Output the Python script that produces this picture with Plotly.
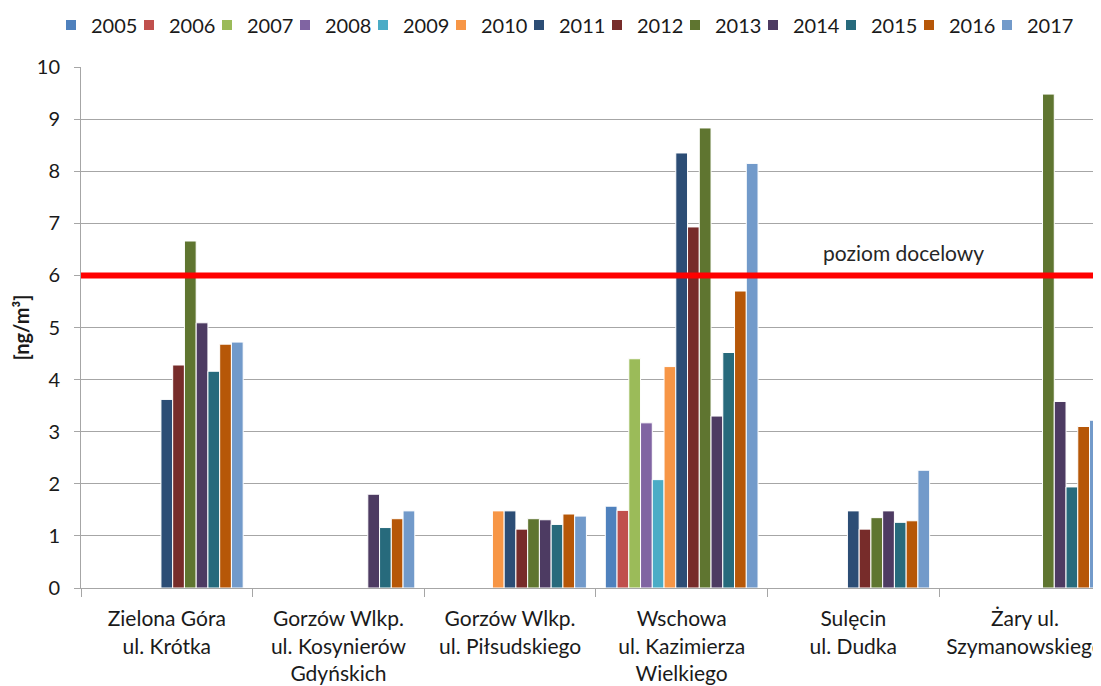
import plotly.graph_objects as go

categories = [
    "Zielona Góra<br>ul. Krótka",
    "Gorzów Wlkp.<br>ul. Kosynierów<br>Gdyńskich",
    "Gorzów Wlkp.<br>ul. Piłsudskiego",
    "Wschowa<br>ul. Kazimierza<br>Wielkiego",
    "Sulęcin<br>ul. Dudka",
    "Żary ul.<br>Szymanowskiego",
]
years = ["2005", "2006", "2007", "2008", "2009", "2010", "2011",
         "2012", "2013", "2014", "2015", "2016", "2017"]

# values per station (index matches years), None = no measurement
zielona_gora = [None, None, None, None, None, None, 3.62, 4.28, 6.66, 5.09, 4.16, 4.68, 4.72]
gorzow_kosynierow = [None, None, None, None, None, None, None, None, None, 1.80, 1.16, 1.33, 1.48]
gorzow_pilsudskiego = [None, None, None, None, None, 1.48, 1.48, 1.13, 1.33, 1.31, 1.22, 1.42, 1.38]
wschowa = [1.57, 1.49, 4.40, 3.17, 2.08, 4.25, 8.35, 6.93, 8.83, 3.30, 4.52, 5.70, 8.15]
sulecin = [None, None, None, None, None, None, 1.48, 1.13, 1.35, 1.48, 1.26, 1.29, 2.26]
zary = [None, None, None, None, None, None, None, None, 9.48, 3.58, 1.94, 3.10, 3.22]

stations = [zielona_gora, gorzow_kosynierow, gorzow_pilsudskiego, wschowa, sulecin, zary]

target_value = 6
target_label = "poziom docelowy"

colors = ["#4F81BD", "#C0504D", "#9BBB59", "#8064A2", "#4BACC6", "#F79646", "#2C4D75",
          "#772C2A", "#5F7530", "#4D3B62", "#276A7C", "#B65708", "#729ACA"]

FONT = "Lato, 'Open Sans', Arial, sans-serif"

PLOT_W = 1028          # plot-area width in px
LEG_START = -30        # px offset of the first legend entry from plot left
LEG_PITCH = 78         # px between legend entries

fig = go.Figure()
legends = {}
for i, yr in enumerate(years):
    lname = "legend" if i == 0 else f"legend{i + 1}"
    fig.add_trace(go.Bar(
        name=yr,
        x=categories,
        y=[st[i] for st in stations],
        marker=dict(color=colors[i], line=dict(color="white", width=1)),
        legend=lname,
    ))
    legends[lname] = dict(
        orientation="h", xanchor="left", yanchor="top", y=1.118,
        x=(LEG_START + LEG_PITCH * i) / PLOT_W,
        font=dict(family=FONT, size=20, color="#1a1a1a"),
        itemsizing="constant", bgcolor="rgba(0,0,0,0)",
    )

fig.add_shape(type="line", xref="paper", x0=0, x1=1, yref="y", y0=target_value, y1=target_value,
              line=dict(color="#FF0000", width=6), layer="above")
fig.add_annotation(text=target_label, xref="x", x=4.29, yref="y", y=target_value,
                   yanchor="bottom", yshift=8, showarrow=False,
                   font=dict(family=FONT, size=21, color="#262626"))

fig.update_layout(
    width=1101, height=686,
    margin=dict(l=73, r=0, t=59, b=106, autoexpand=False),
    paper_bgcolor="white", plot_bgcolor="white",
    barmode="group", bargap=0.11, bargroupgap=0,
    font=dict(family=FONT, size=20, color="#1a1a1a"),
    showlegend=True,
    xaxis=dict(range=[-0.5, 5.49], showgrid=False, showline=True, linecolor="#A6A6A6",
               linewidth=1, ticks="outside", tickson="boundaries", ticklen=8,
               tickcolor="#A6A6A6", ticklabelstandoff=12,
               tickfont=dict(family=FONT, size=21, color="#1a1a1a"),
               tickangle=0, fixedrange=True, automargin=False),
    yaxis=dict(range=[0, 10], dtick=1, showgrid=True, gridcolor="#A6A6A6", gridwidth=1,
               showline=True, linecolor="#A6A6A6", linewidth=1, ticks="outside", ticklen=6,
               tickcolor="#A6A6A6", ticklabelstandoff=10,
               tickfont=dict(family=FONT, size=20, color="#1a1a1a"),
               title=dict(text="<b>[ng/m³]</b>", standoff=1,
                          font=dict(family=FONT, size=20, color="#1a1a1a")),
               zeroline=False, fixedrange=True, automargin=False),
)
fig.update_layout(**legends)

fig.write_html("out.html")
